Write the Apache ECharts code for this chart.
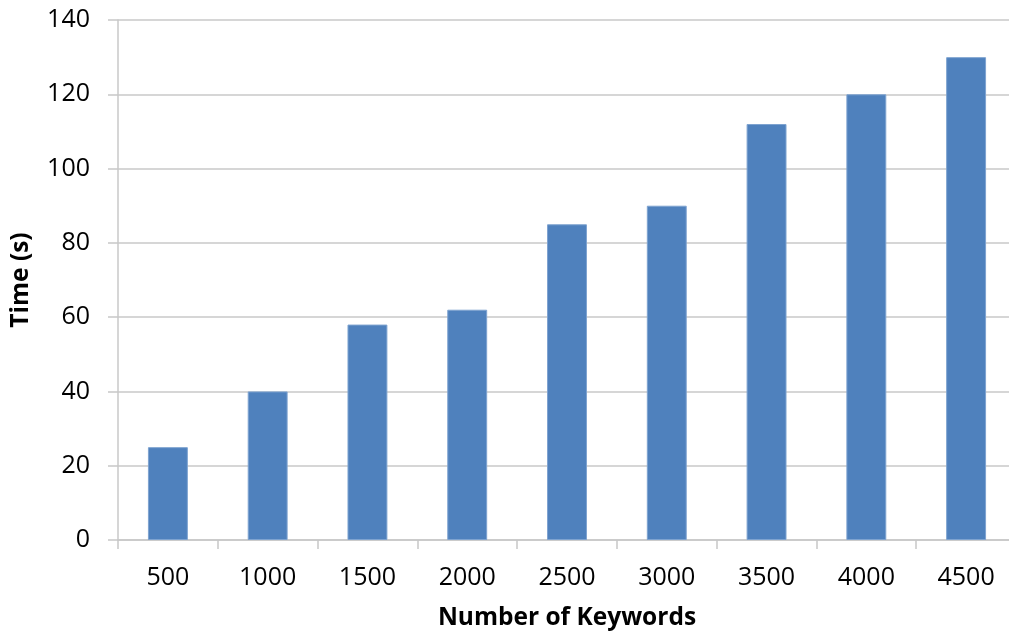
<!DOCTYPE html>
<html>
<head>
<meta charset="utf-8">
<script src="https://cdn.jsdelivr.net/npm/echarts@6/dist/echarts.min.js"></script>
<style>
  html, body { margin: 0; padding: 0; background: #ffffff; }
  #chart { width: 1009px; height: 634px; }
</style>
</head>
<body>
<div id="chart"></div>
<script>
// Keyword counts on the x axis and measured run time in seconds
const categories = ['500', '1000', '1500', '2000', '2500', '3000', '3500', '4000', '4500'];
const timeSeconds = [25, 40, 58, 62, 85, 90, 112, 120, 130];
const yTicks = { min: 0, max: 140, interval: 20 };

const FONT = '"Open Sans", Lato, sans-serif';
const GRID_GRAY = '#c8c8c8';

const chart = echarts.init(document.getElementById('chart'), null, { renderer: 'canvas' });
chart.setOption({
  animation: false,
  backgroundColor: '#ffffff',
  grid: { left: 118, right: -7, top: 20, bottom: 94, outerBoundsMode: 'none', containLabel: false },
  xAxis: {
    type: 'category',
    data: categories,
    boundaryGap: true,
    name: 'Number of Keywords',
    nameLocation: 'middle',
    nameGap: 66,
    nameTextStyle: { fontFamily: FONT, fontSize: 24.5, fontWeight: 'bold', color: '#000' },
    axisLine: { show: true, lineStyle: { color: GRID_GRAY, width: 1.5 } },
    axisTick: { show: true, alignWithLabel: false, length: 9, lineStyle: { color: GRID_GRAY, width: 1.5 } },
    axisLabel: { fontFamily: FONT, fontSize: 25, color: '#000', margin: 25 },
    splitLine: { show: false }
  },
  yAxis: {
    type: 'value',
    min: yTicks.min,
    max: yTicks.max,
    interval: yTicks.interval,
    name: 'Time (s)',
    nameLocation: 'middle',
    nameGap: 84,
    nameRotate: 90,
    nameTextStyle: { fontFamily: FONT, fontSize: 24.5, fontWeight: 'bold', color: '#000' },
    axisLine: { show: true, lineStyle: { color: GRID_GRAY, width: 1.5 } },
    axisTick: { show: true, length: 10, lineStyle: { color: GRID_GRAY, width: 1.5 } },
    axisLabel: { fontFamily: FONT, fontSize: 25, color: '#000', margin: 28 },
    splitLine: { show: true, lineStyle: { color: GRID_GRAY, width: 1.5 } }
  },
  series: [{
    type: 'bar',
    data: timeSeconds,
    barWidth: '40%',
    itemStyle: { color: '#4f81bd', borderColor: '#7ea3d0', borderWidth: 1 }
  }]
});
</script>
</body>
</html>
